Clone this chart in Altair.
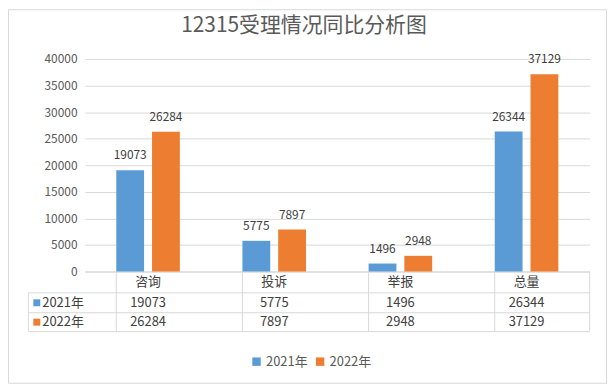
import altair as alt
import pandas as pd

# ---- data ----
categories = ["咨询", "投诉", "举报", "总量"]
years = ["2021年", "2022年"]
values_2021 = [19073, 5775, 1496, 26344]
values_2022 = [26284, 7897, 2948, 37129]
title_text = "12315受理情况同比分析图"
y_ticks = [0, 5000, 10000, 15000, 20000, 25000, 30000, 35000, 40000]

rows = []
for yr, vals in zip(years, [values_2021, values_2022]):
    for c, v in zip(categories, vals):
        rows.append({"category": c, "year": yr, "value": v})
df = pd.DataFrame(rows)
one = pd.DataFrame({"k": [0]})
cat_df = pd.DataFrame({"category": categories})
year_df = pd.DataFrame({"year": years})

FONT = "Noto Sans CJK SC"
BLUE, ORANGE = "#5B9BD5", "#ED7D31"
GRID = "#D9D9D9"
TXT = "#404040"
AX = "#595959"

W, H = 508, 214

x_scale = alt.Scale(paddingInner=63 / 127, paddingOuter=31.5 / 127)
x_enc = alt.X("category:N", sort=categories, title=None, scale=x_scale, axis=None)
xoff_enc = alt.XOffset("year:N", sort=years,
                       scale=alt.Scale(paddingInner=8 / 36, paddingOuter=0))
y_enc = alt.Y(
    "value:Q", title=None,
    scale=alt.Scale(domain=[0, 40000], nice=False),
    axis=alt.Axis(values=y_ticks, format="d", labelFontSize=12, labelColor=AX,
                  labelFont=FONT, ticks=False, domain=False, grid=True,
                  gridColor=GRID, labelPadding=8),
)
color_enc = alt.Color(
    "year:N", sort=years, title=None,
    scale=alt.Scale(domain=years, range=[BLUE, ORANGE]),
    legend=alt.Legend(orient="none", legendX=166.2, legendY=298, direction="horizontal",
                      symbolType="square", symbolSize=72, symbolStrokeWidth=0,
                      labelFontSize=13, labelColor=AX, labelFont=FONT,
                      labelOffset=3, columnPadding=6, padding=0),
)

base = alt.Chart(df)

# outer border
border = alt.Chart(one).mark_rect(fill=None, stroke=GRID, strokeWidth=1).encode(
    x=alt.value(-77), x2=alt.value(525), y=alt.value(-49.5), y2=alt.value(326.5)
)

# title
title = alt.Chart(one).mark_text(
    text=title_text, fontSize=21, font=FONT, color=AX, baseline="middle", align="center"
).encode(x=alt.value(220.5), y=alt.value(-33))

bars = base.mark_bar().encode(x=x_enc, xOffset=xoff_enc, y=y_enc, color=color_enc)

labels = base.mark_text(baseline="alphabetic", dy=-11, fontSize=12, font=FONT, color=TXT).encode(
    x=x_enc, xOffset=xoff_enc, y=y_enc, text=alt.Text("value:Q", format="d")
)

# data table grid
def hline(yv, x0):
    return alt.Chart(one).mark_rule(color=GRID, strokeWidth=1).encode(
        x=alt.value(x0), x2=alt.value(W), y=alt.value(yv)
    )

h_top = hline(214.5, 0)
h_r1 = hline(235.5, -57)
h_r2 = hline(255.5, -57)
h_bot = hline(274.5, -57)

v_cats = alt.Chart(cat_df).mark_rule(color=GRID, strokeWidth=1).encode(
    x=alt.X("category:N", sort=categories, bandPosition=0, title=None,
            scale=x_scale, axis=None),
    y=alt.value(214.5), y2=alt.value(274.5),
)
v_right = alt.Chart(one).mark_rule(color=GRID, strokeWidth=1).encode(
    x=alt.value(W), y=alt.value(214.5), y2=alt.value(274.5)
)
v_left = alt.Chart(one).mark_rule(color=GRID, strokeWidth=1).encode(
    x=alt.value(-57), y=alt.value(235.5), y2=alt.value(274.5)
)

# table header (category names)
header = alt.Chart(cat_df).mark_text(fontSize=13, font=FONT, color=TXT, baseline="middle").encode(
    x=x_enc, y=alt.value(224.5), text="category:N"
)

row_y = {years[0]: 245.5, years[1]: 265}
table_layers = []
for yr in years:
    sub = base.transform_filter(alt.datum.year == yr)
    table_layers.append(
        sub.mark_text(fontSize=13, font=FONT, color=TXT, baseline="middle").encode(
            x=x_enc, y=alt.value(row_y[yr]), text=alt.Text("value:Q", format="d")
        )
    )
    ydf = year_df[year_df.year == yr]
    table_layers.append(
        alt.Chart(ydf).mark_square(size=49, opacity=1).encode(
            x=alt.value(-48.5), y=alt.value(row_y[yr]),
            color=alt.Color("year:N", scale=alt.Scale(domain=years, range=[BLUE, ORANGE]),
                            legend=None),
        )
    )
    table_layers.append(
        alt.Chart(ydf).mark_text(fontSize=13, font=FONT, color=TXT, baseline="middle",
                                 align="left").encode(
            x=alt.value(-43), y=alt.value(row_y[yr]), text="year:N"
        )
    )

chart = alt.layer(
    border, title, h_top, h_r1, h_r2, h_bot, v_cats, v_right, v_left,
    bars, labels, header, *table_layers
).properties(
    width=W, height=H,
    padding={"left": 77.5, "top": 50, "right": 17.5, "bottom": 113},
    autosize=alt.AutoSizeParams(type="none"),
    background="white",
).configure_view(stroke=None)

chart.save("out.html", embed_options={"renderer": "svg", "actions": False})
